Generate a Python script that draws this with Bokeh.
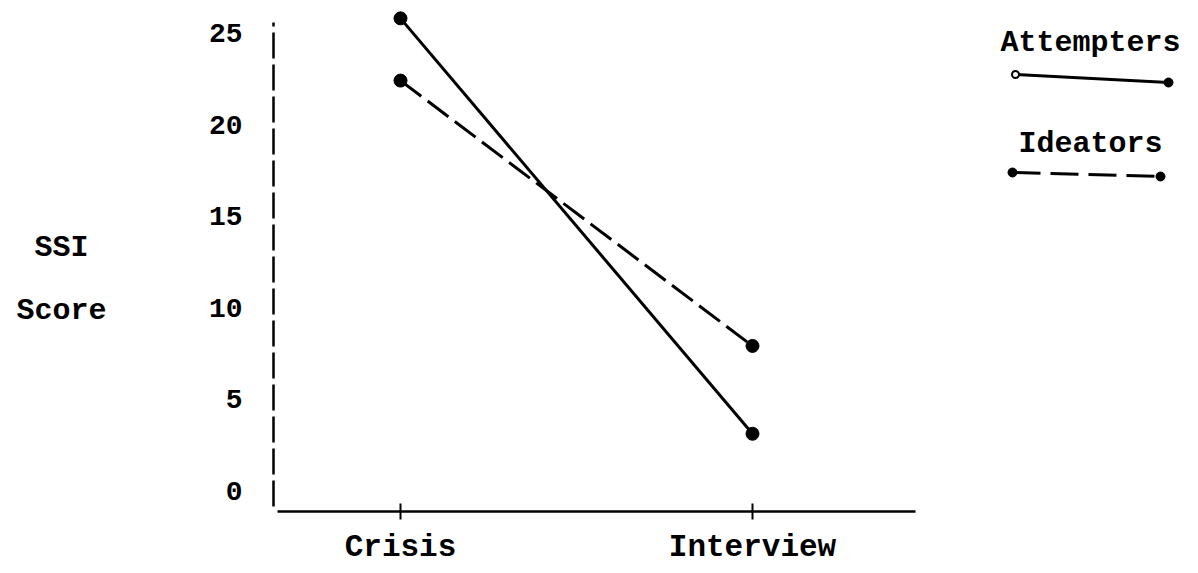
from bokeh.plotting import figure
from bokeh.models import Label, FixedTicker, Range1d
from bokeh.embed import file_html
from bokeh.resources import INLINE

# ---- data ----
phases = ["Crisis", "Interview"]
phase_pos = [1, 2]
attempters = [25.8, 3.1]
ideators = [22.4, 7.9]
y_ticks = [0, 5, 10, 15, 20, 25]
series_names = ["Attempters", "Ideators"]
y_title = ["SSI", "Score"]

# ---- layout (pixels on the page) ----
W, H = 1198, 573
FONT = "Liberation Mono"
X0_PX, X_UNIT = 400, 352.0     # page x of first phase, px per phase step
Y0_PX, Y_UNIT = 490, 18.3      # page y of value 0, px per unit
YAXIS_PX, XAXIS_PX = 273, 511


def cx(px):
    return 1 + (px - X0_PX) / X_UNIT


def cy(py):
    return (Y0_PX - py) / Y_UNIT


p = figure(width=W, height=H, output_backend="svg", toolbar_location=None,
           x_range=Range1d(cx(0), cx(W)), y_range=Range1d(cy(H), cy(0)),
           min_border=0, min_border_left=0, min_border_right=0,
           min_border_top=0, min_border_bottom=0)
p.outline_line_color = None
p.xgrid.visible = False
p.ygrid.visible = False
p.background_fill_color = "white"
p.border_fill_color = "white"

# y axis
ya = p.yaxis[0]
ya.fixed_location = cx(YAXIS_PX)
ya.ticker = FixedTicker(ticks=y_ticks)
ya.bounds = (cy(506), cy(22))
ya.axis_line_width = 2.5
ya.axis_line_color = "black"
ya.axis_line_dash = "26 6"
ya.major_tick_line_color = None
ya.minor_tick_line_color = None
ya.major_label_standoff = 25
ya.major_label_text_font = FONT
ya.major_label_text_font_size = "28px"
ya.major_label_text_font_style = "bold"
ya.major_label_text_color = "black"

# x axis
xa = p.xaxis[0]
xa.fixed_location = cy(XAXIS_PX)
xa.ticker = FixedTicker(ticks=phase_pos)
xa.major_label_overrides = {k: v for k, v in zip(phase_pos, phases)}
xa.bounds = (cx(277), cx(915))
xa.axis_line_width = 2.5
xa.axis_line_color = "black"
xa.major_tick_in = 8
xa.major_tick_out = 8
xa.major_tick_line_width = 2
xa.major_tick_line_color = "black"
xa.minor_tick_line_color = None
xa.major_label_standoff = 10
xa.major_label_text_font = FONT
xa.major_label_text_font_size = "31px"
xa.major_label_text_font_style = "bold"
xa.major_label_text_color = "black"

# data series
p.line(phase_pos, attempters, line_width=3, line_color="black")
p.scatter(phase_pos, attempters, size=13, fill_color="black", line_color="black")
p.line(phase_pos, ideators, line_width=3, line_color="black", line_dash="26 8")
p.scatter(phase_pos, ideators, size=13, fill_color="black", line_color="black")

# y title
for txt, py in zip(y_title, [247, 310]):
    p.add_layout(Label(x=cx(61), y=cy(py), text=txt, text_align="center",
                       text_baseline="middle", text_font=FONT, text_font_size="30px",
                       text_font_style="bold", text_color="black"))

# legend
leg_y = [42, 143]
leg_line = [((1015, 74), (1168, 82)), ((1012, 172), (1160, 176))]
leg_dash = ["solid", "28 10"]
for name, ty, (a, b), dash in zip(series_names, leg_y, leg_line, leg_dash):
    p.add_layout(Label(x=cx(1090), y=cy(ty), text=name, text_align="center",
                       text_baseline="middle", text_font=FONT, text_font_size="30px",
                       text_font_style="bold", text_color="black"))
    p.line([cx(a[0]), cx(b[0])], [cy(a[1]), cy(b[1])], line_width=3,
           line_color="black", line_dash=dash)
    p.scatter([cx(b[0])], [cy(b[1])], size=9, fill_color="black", line_color="black")
    if name == "Attempters":
        p.scatter([cx(a[0])], [cy(a[1])], size=7, fill_color="white",
                  line_color="black", line_width=2)
    else:
        p.scatter([cx(a[0])], [cy(a[1])], size=9, fill_color="black", line_color="black")

open("out.html", "w").write(file_html(p, INLINE))
